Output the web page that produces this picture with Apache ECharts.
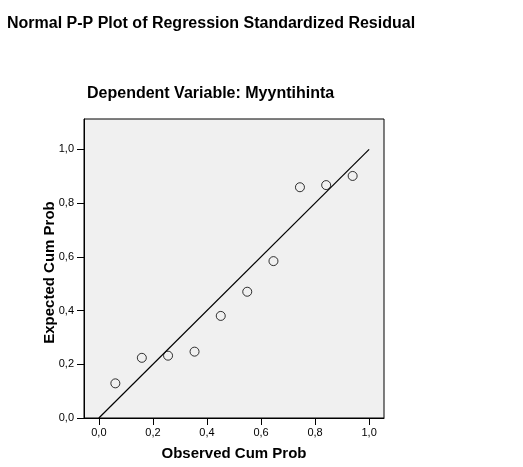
<!DOCTYPE html>
<html><head><meta charset="utf-8">
<script src="https://cdn.jsdelivr.net/npm/echarts@6/dist/echarts.min.js"></script>
<style>html,body{margin:0;padding:0;background:#fff}#c{width:523px;height:467px}</style>
</head><body><div id="c"></div>
<script>
const observedCumProb = [0.061, 0.159, 0.256, 0.354, 0.451, 0.549, 0.646, 0.744, 0.841, 0.939];
const expectedCumProb = [0.129, 0.224, 0.232, 0.247, 0.380, 0.470, 0.584, 0.859, 0.867, 0.901];
const tickValues = [0, 0.2, 0.4, 0.6, 0.8, 1.0];
const refLine = [[0, 0], [1, 1]];
const titleText = 'Normal P-P Plot of Regression Standardized Residual';
const subtitleText = 'Dependent Variable: Myyntihinta';
const xName = 'Observed Cum Prob';
const yName = 'Expected Cum Prob';

const FONT = 'Arial, "Liberation Sans", sans-serif';
const fmt = v => v.toFixed(1).replace('.', ',');
const points = observedCumProb.map((x, i) => [x, expectedCumProb[i]]);

const chart = echarts.init(document.getElementById('c'), null, {renderer: 'canvas'});
chart.setOption({
  animation: false,
  backgroundColor: '#ffffff',
  title: [
    {text: titleText, left: 7, top: 16, padding: 0, textStyle: {fontFamily: FONT, fontSize: 16, fontWeight: 'bold', color: '#000'}},
    {text: subtitleText, left: 87, top: 86, padding: 0, textStyle: {fontFamily: FONT, fontSize: 16, fontWeight: 'bold', color: '#000'}}
  ],
  grid: {left: 84, top: 119, width: 300, height: 299, show: true, backgroundColor: '#f0f0f0', borderColor: '#000', borderWidth: 1},
  xAxis: {
    type: 'value', min: -0.055, max: 1.055,
    name: xName, nameLocation: 'middle', nameGap: 28, nameMoveOverlap: false,
    nameTextStyle: {fontFamily: FONT, fontSize: 15, fontWeight: 'bold', color: '#000'},
    axisLine: {show: true, onZero: false, lineStyle: {color: '#000', width: 1}},
    axisTick: {show: true, length: 7, customValues: tickValues, lineStyle: {color: '#000'}},
    axisLabel: {customValues: tickValues, formatter: fmt, margin: 9, fontFamily: FONT, fontSize: 11, color: '#000'},
    splitLine: {show: false}
  },
  yAxis: {
    type: 'value', min: 0, max: 1.113,
    name: yName, nameLocation: 'middle', nameGap: 27, nameMoveOverlap: false,
    nameTextStyle: {fontFamily: FONT, fontSize: 15, fontWeight: 'bold', color: '#000', padding: [0, 8, 0, 0]},
    axisLine: {show: true, onZero: false, lineStyle: {color: '#000', width: 1}},
    axisTick: {show: true, length: 7, customValues: tickValues, lineStyle: {color: '#000'}},
    axisLabel: {customValues: tickValues, formatter: fmt, margin: 10, fontFamily: FONT, fontSize: 11, color: '#000'},
    splitLine: {show: false}
  },
  series: [
    {type: 'line', data: refLine, symbol: 'none', lineStyle: {color: '#000', width: 1.2}, silent: true},
    {type: 'scatter', data: points, symbol: 'circle', symbolSize: 9,
     itemStyle: {color: 'rgba(0,0,0,0)', borderColor: '#000', borderWidth: 1}}
  ]
});
</script></body></html>
